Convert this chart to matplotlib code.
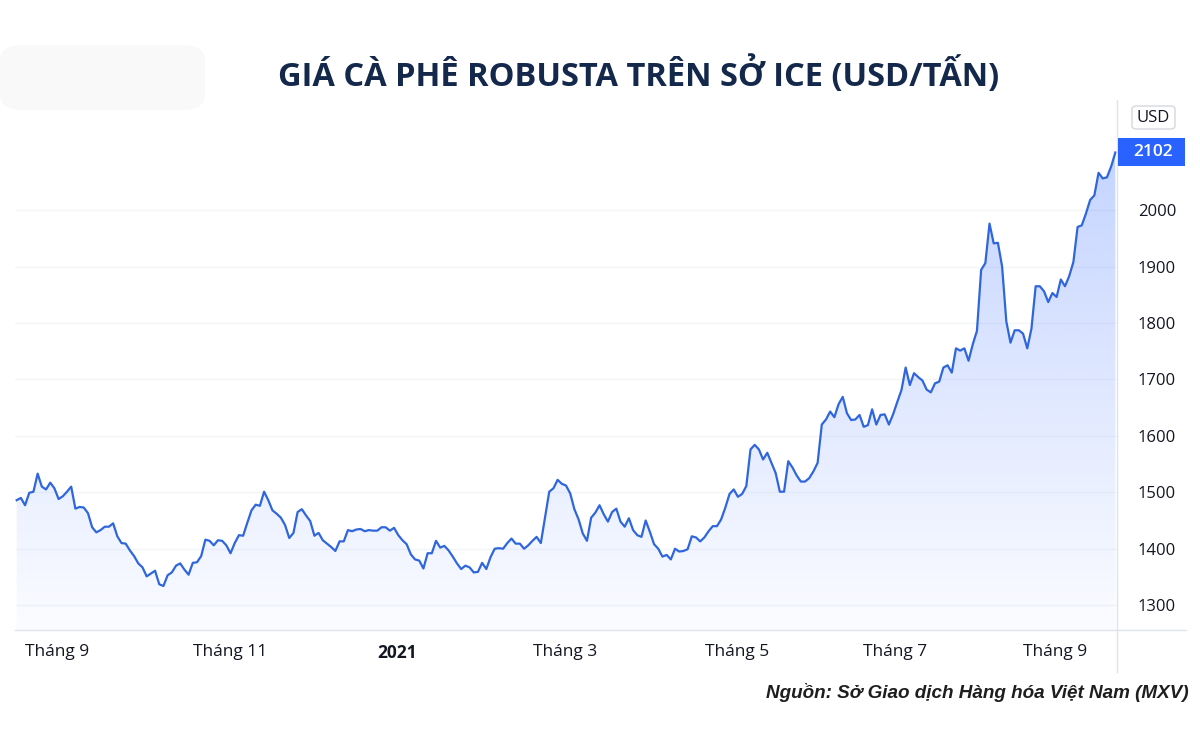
import numpy as np
import matplotlib
matplotlib.use("Agg")
import matplotlib.pyplot as plt
from matplotlib.patches import FancyBboxPatch, Rectangle
from matplotlib.lines import Line2D

# ---------------- data (daily closes, USD/tonne) ----------------
prices = [
    1486, 1490, 1477, 1499, 1501, 1533, 1510, 1505, 1517, 1507,
    1488, 1493, 1501, 1510, 1471, 1474, 1473, 1463, 1438, 1429,
    1433, 1439, 1439, 1445, 1422, 1410, 1409, 1397, 1387, 1374,
    1367, 1351, 1356, 1361, 1337, 1334, 1353, 1358, 1370, 1374,
    1363, 1354, 1375, 1376, 1387,
    1416, 1414, 1406, 1415, 1414, 1406, 1392, 1410, 1424, 1423,
    1446, 1468, 1478, 1476, 1501, 1486, 1468, 1462, 1455, 1442,
    1419, 1428, 1465, 1470, 1459, 1449, 1423, 1428, 1415, 1409,
    1403, 1396, 1413, 1413, 1433, 1431, 1434, 1435, 1431, 1433,
    1432, 1432, 1438,
    1438, 1432, 1437, 1424, 1415, 1408, 1390, 1381, 1379, 1365,
    1392, 1392, 1414, 1402, 1405, 1397, 1386, 1374, 1364, 1370,
    1367, 1358, 1359, 1375, 1364, 1385, 1400, 1401, 1400, 1410,
    1418, 1409, 1409, 1400, 1406, 1414, 1421, 1410, 1456, 1501,
    1507, 1522, 1515,
    1512, 1498, 1470, 1452, 1427, 1414, 1455, 1464, 1477, 1461,
    1448, 1465, 1471, 1448, 1439, 1454, 1433, 1424, 1421, 1450,
    1430, 1408, 1400, 1386, 1389, 1381, 1400, 1395, 1396, 1399,
    1422, 1420, 1413, 1420, 1431, 1440, 1440, 1452, 1473, 1497,
    1505, 1492, 1497,
    1511, 1576, 1584, 1576, 1558, 1570, 1552, 1534, 1501, 1501,
    1555, 1544, 1530, 1519, 1519, 1525, 1537, 1552, 1620, 1629,
    1643, 1633, 1656, 1669, 1640, 1628, 1629, 1637, 1616, 1619,
    1647, 1620, 1637, 1638, 1620, 1638, 1660, 1681, 1721, 1690,
    1711, 1704, 1698,
    1682, 1677, 1693, 1696, 1721, 1725, 1712, 1755, 1751, 1755,
    1733, 1762, 1786, 1894, 1906, 1976, 1941, 1942, 1900, 1803,
    1765, 1787, 1787, 1781, 1755,
    1790, 1865, 1865, 1856, 1837, 1853, 1846, 1877, 1865, 1883,
    1908, 1970, 1973, 1994, 2018, 2026, 2066, 2056, 2058, 2077,
    2102,
]
tick_positions = [9.6, 50.8, 90.8, 130.8, 171.7, 209.5, 247.6]
tick_labels = ["Tháng 9", "Tháng 11", "2021", "Tháng 3", "Tháng 5", "Tháng 7", "Tháng 9"]
y_ticks = [1300, 1400, 1500, 1600, 1700, 1800, 1900, 2000]
last_price = 2102
currency = "USD"
title = "GIÁ CÀ PHÊ ROBUSTA TRÊN SỞ ICE (USD/TẤN)"
source = "Nguồn: Sở Giao dịch Hàng hóa Việt Nam (MXV)"

# ---------------- styling ----------------
plt.rcParams['font.family'] = ['Open Sans', 'DejaVu Sans']
W, H = 1200, 750
line_color = '#2f66dd'
text_color = '#131722'
sep_color = '#e0e3eb'

fig = plt.figure(figsize=(W / 100, H / 100), dpi=100)
fig.patch.set_facecolor('white')

# very faint watermark smudge at top-left
fig.patches.append(FancyBboxPatch((0 / W, 1 - 110 / H), 205 / W, 65 / H,
                                  boxstyle='round,pad=0,rounding_size=0.02',
                                  transform=fig.transFigure, fc='#f9f9f9', ec='none',
                                  zorder=0))

ax_left, ax_right, ax_top, ax_bottom = 15, 1117, 100, 630
ax = fig.add_axes([ax_left / W, 1 - ax_bottom / H, (ax_right - ax_left) / W,
                   (ax_bottom - ax_top) / H])
ax.set_facecolor('none')

x = np.arange(len(prices))
ymin, ymax = 1256, 2195
xmin, xmax = -0.4, len(prices) - 1 + 0.4
ax.set_xlim(xmin, xmax)
ax.set_ylim(ymin, ymax)

ax.plot(x, prices, color=line_color, lw=1.6, solid_joinstyle='round', zorder=3)

# gradient fill under line
poly = ax.fill_between(x, prices, ymin, color='none', lw=0)
n = 256
grad = np.zeros((n, 1, 4))
grad[:, 0, 0] = 41 / 255
grad[:, 0, 1] = 98 / 255
grad[:, 0, 2] = 255 / 255
grad[:, 0, 3] = np.linspace(0.30, 0.02, n)
im = ax.imshow(grad, extent=[xmin, xmax, ymin, ymax], origin='upper',
               aspect='auto', zorder=2, interpolation='bilinear')
im.set_clip_path(poly.get_paths()[0], transform=ax.transData)

# grid
ax.set_yticks(y_ticks)
ax.grid(axis='y', color='#f4f5f9', lw=1, zorder=0)
ax.grid(axis='x', visible=False)
for s in ax.spines.values():
    s.set_visible(False)

ax.yaxis.tick_right()
ax.tick_params(axis='y', length=0, pad=15, labelsize=12, labelcolor=text_color)
ax.set_xticks(tick_positions)
ax.set_xticklabels(tick_labels)
ax.tick_params(axis='x', length=0, pad=10, labelsize=12.5, labelcolor=text_color)
ax.get_xticklabels()[2].set_fontweight('bold')

# baseline and price-axis separator
fig.add_artist(Line2D([ax_left / W, 1186 / W], [1 - ax_bottom / H] * 2,
                      transform=fig.transFigure, color=sep_color, lw=1))
fig.add_artist(Line2D([ax_right / W] * 2, [1 - 100 / H, 1 - 672 / H],
                      transform=fig.transFigure, color=sep_color, lw=1))

# last price label
fig.canvas.draw()
_, py = ax.transData.transform((0, last_price))
ly = py / H
fig.patches.append(Rectangle((1118 / W, ly - 14 / H), 67 / W, 28 / H,
                             transform=fig.transFigure, fc='#2962ff', ec='none', zorder=5))
fig.text(1153 / W, ly, str(last_price), ha='center', va='center', color='white',
         fontsize=12.5, fontweight='semibold', zorder=6)

# currency label
fig.patches.append(FancyBboxPatch((1132 / W, 1 - 129 / H), 43 / W, 23 / H,
                                  boxstyle='round,pad=0,rounding_size=0.004',
                                  transform=fig.transFigure, fc='white', ec='#d5d8df',
                                  lw=1, zorder=5))
fig.text(1153.5 / W, 1 - 117.5 / H, currency, ha='center', va='center', color=text_color,
         fontsize=12, zorder=6)

# title and source
fig.text(639 / W, 1 - 75 / H, title, ha='center', va='center', fontsize=23.5,
         fontweight='bold', color='#14284b')
fig.text(1189 / W, 1 - 693 / H, source, ha='right', va='center', fontsize=13.6,
         fontstyle='italic', fontweight='bold', family=['Liberation Sans', 'DejaVu Sans'],
         color='#1e1e1e')

fig.savefig('out.png', dpi=100, facecolor='white')
